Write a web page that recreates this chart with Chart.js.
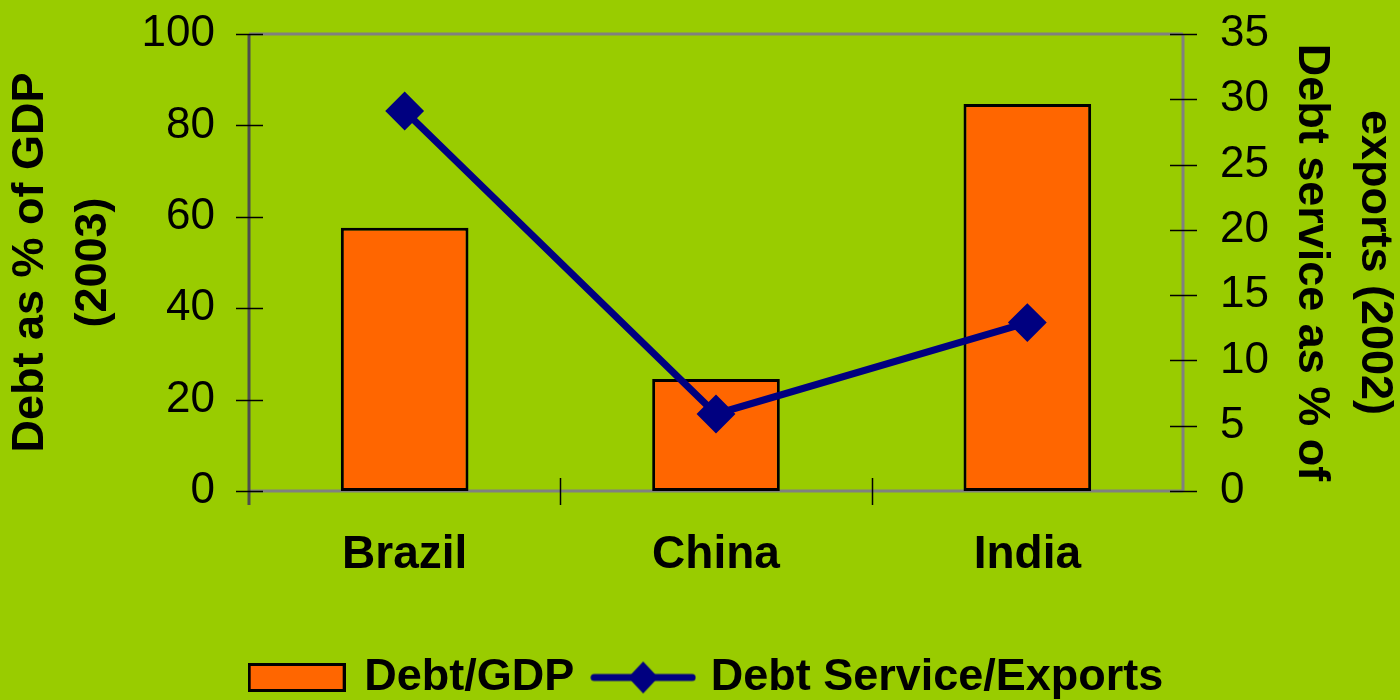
<!DOCTYPE html>
<html>
<head>
<meta charset="utf-8">
<script src="https://cdn.jsdelivr.net/npm/chart.js@4"></script>
<style>
  html, body { margin: 0; padding: 0; background: #99cc00; }
</style>
</head>
<body>
<canvas id="chart" width="1400" height="700"></canvas>
<script>
// data
const categories = ["Brazil", "China", "India"];
const debtToGdp = [57.6, 24.5, 84.7];
const debtServiceToExports = [29.1, 5.9, 12.9];
const leftTicks = [0, 20, 40, 60, 80, 100];
const rightTicks = [0, 5, 10, 15, 20, 25, 30, 35];

const FONT = "'Liberation Sans', Arial, sans-serif";
const ORANGE = "#ff6600";
const NAVY = "#000080";

Chart.defaults.color = "#000";
Chart.defaults.font.family = FONT;

// legend symbols drawn on small canvases
function makeBarSwatch() {
  const c = document.createElement("canvas");
  c.width = 98;
  c.height = 29;
  const g = c.getContext("2d");
  g.fillStyle = "#000";
  g.fillRect(0, 0, 98, 29);
  g.fillStyle = ORANGE;
  g.fillRect(3, 3, 92, 23);
  return c;
}

function makeLineSwatch() {
  const c = document.createElement("canvas");
  c.width = 106;
  c.height = 36;
  const g = c.getContext("2d");
  g.strokeStyle = NAVY;
  g.lineWidth = 7;
  g.lineCap = "round";
  g.beginPath();
  g.moveTo(4, 18);
  g.lineTo(102, 18);
  g.stroke();
  g.fillStyle = NAVY;
  g.beginPath();
  g.moveTo(53, 2);
  g.lineTo(68, 18);
  g.lineTo(53, 34);
  g.lineTo(38, 18);
  g.closePath();
  g.fill();
  return c;
}

const swatches = [makeBarSwatch(), makeLineSwatch()];

// axis frame and the crossing tick marks
const frameAndTicks = {
  id: "frameAndTicks",
  beforeDatasetsDraw(chart) {
    const { ctx, chartArea: a, scales } = chart;
    const line = (x1, y1, x2, y2) => {
      ctx.beginPath();
      ctx.moveTo(x1, y1);
      ctx.lineTo(x2, y2);
      ctx.stroke();
    };
    ctx.save();
    ctx.lineWidth = 3;
    ctx.strokeStyle = "#808080";
    line(a.left, a.top, a.right, a.top);
    line(a.left, a.bottom, a.right, a.bottom);
    line(a.right, a.top, a.right, a.bottom);
    ctx.strokeStyle = "#4d4d4d";
    line(a.left, a.top, a.left, a.bottom + 14);

    ctx.lineWidth = 1.5;
    ctx.strokeStyle = "#000";
    scales.y.ticks.forEach((t) => {
      const py = Math.round(scales.y.getPixelForValue(t.value)) + 0.5;
      line(a.left - 13, py, a.left + 14, py);
    });
    scales.y1.ticks.forEach((t) => {
      const py = Math.round(scales.y1.getPixelForValue(t.value)) + 0.5;
      line(a.right - 13, py, a.right + 14, py);
    });
    const xs = scales.x;
    const half = (xs.getPixelForValue(1) - xs.getPixelForValue(0)) / 2;
    for (let i = 1; i < categories.length; i++) {
      const px = Math.round(xs.getPixelForValue(i) - half) + 0.5;
      line(px, a.bottom - 13, px, a.bottom + 14);
    }
    ctx.restore();
  },
};

new Chart(document.getElementById("chart"), {
  data: {
    labels: categories,
    datasets: [
      {
        type: "bar",
        label: "Debt/GDP",
        data: debtToGdp,
        yAxisID: "y",
        backgroundColor: ORANGE,
        borderColor: "#000",
        borderWidth: 3,
        borderSkipped: false,
        categoryPercentage: 1,
        barPercentage: 0.41,
        order: 1,
      },
      {
        type: "line",
        label: "Debt Service/Exports",
        data: debtServiceToExports,
        yAxisID: "y1",
        borderColor: NAVY,
        borderWidth: 7,
        backgroundColor: NAVY,
        pointStyle: "rectRot",
        pointRadius: 18,
        pointBackgroundColor: NAVY,
        pointBorderColor: NAVY,
        pointBorderWidth: 2,
        tension: 0,
        order: 0,
      },
    ],
  },
  options: {
    responsive: false,
    animation: false,
    layout: { padding: { top: 34, left: 15, right: 0, bottom: -10 } },
    plugins: {
      tooltip: { enabled: false },
      legend: {
        position: "bottom",
        labels: {
          font: { size: 45, weight: "bold" },
          usePointStyle: true,
          pointStyleWidth: 90,
          padding: 24,
          sort: (a, b) => a.datasetIndex - b.datasetIndex,
          generateLabels(chart) {
            const items = Chart.defaults.plugins.legend.labels.generateLabels(chart);
            items.forEach((it) => {
              it.pointStyle = swatches[it.datasetIndex];
              it.rotation = 0;
            });
            return items;
          },
        },
      },
    },
    scales: {
      x: {
        grid: { display: false, drawTicks: false },
        border: { display: false },
        ticks: { font: { size: 46, weight: "bold" }, padding: 37 },
        afterFit(scale) {
          scale.height = 140;
        },
      },
      y: {
        position: "left",
        min: leftTicks[0],
        max: leftTicks[leftTicks.length - 1],
        grid: { display: false, drawTicks: false },
        border: { display: false },
        ticks: { stepSize: leftTicks[1] - leftTicks[0], font: { size: 44 }, padding: 34 },
        title: {
          display: true,
          text: ["Debt as % of GDP", "(2003)"],
          font: { size: 45, weight: "bold", lineHeight: 1.4 },
          padding: { top: -16 },
        },
        afterFit(scale) {
          scale.width = 234;
          scale.paddingTop = 0;
          scale.paddingBottom = 0;
        },
      },
      y1: {
        position: "right",
        min: rightTicks[0],
        max: rightTicks[rightTicks.length - 1],
        grid: { display: false, drawTicks: false },
        border: { display: false },
        ticks: { stepSize: rightTicks[1] - rightTicks[0], font: { size: 44 }, padding: 37 },
        title: {
          display: true,
          text: ["exports (2002)", "Debt service as % of"],
          font: { size: 45, weight: "bold", lineHeight: 1.4 },
          padding: { top: -6 },
        },
        afterFit(scale) {
          scale.width = 217;
          scale.paddingTop = 0;
          scale.paddingBottom = 0;
        },
      },
    },
  },
  plugins: [frameAndTicks],
});
</script>
</body>
</html>
